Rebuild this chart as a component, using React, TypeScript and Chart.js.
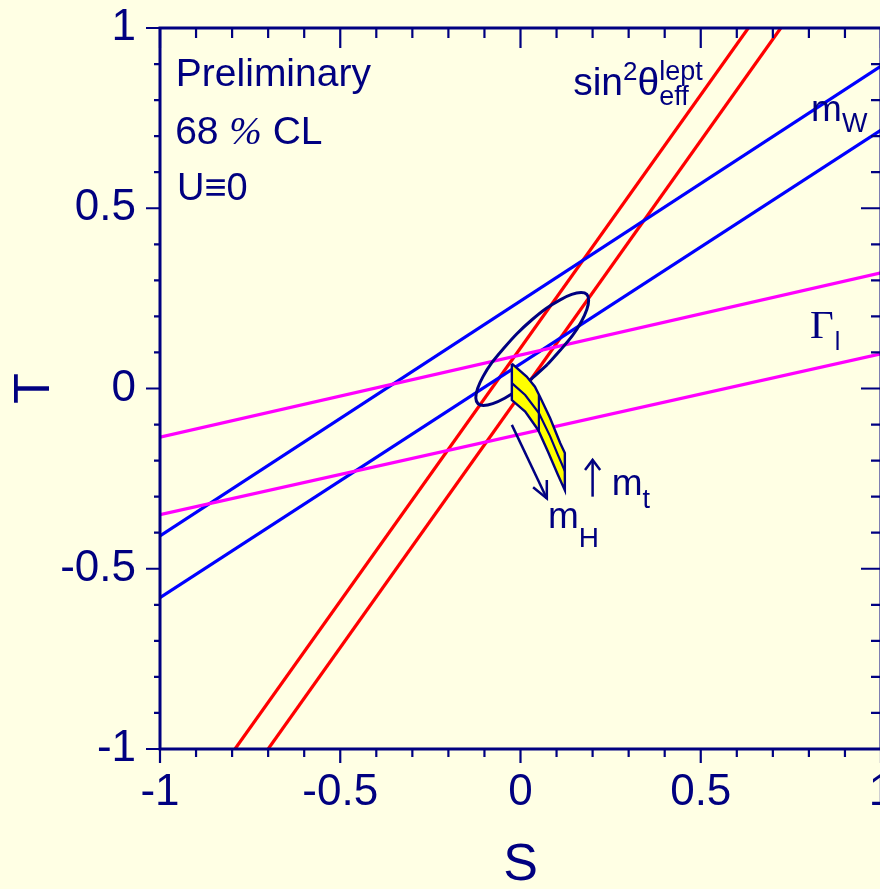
import React, { useEffect, useRef } from 'react';
import { Chart, registerables } from 'chart.js';

Chart.register(...registerables);

const NAVY = '#000080';
const BG = '#FFFFE4';
const RED = '#FF0000';
const BLUE = '#0000FF';
const MAGENTA = '#FF00FF';
const YELLOW = '#FFFF00';
const SANS = "'Liberation Sans', Arial, Helvetica, sans-serif";
const SERIF = "'Liberation Serif', 'Times New Roman', Times, serif";

// axes
const S_TICK_VALUES = [-1, -0.5, 0, 0.5, 1];
const S_TICK_LABELS = ['-1', '-0.5', '0', '0.5', '1'];
const T_TICK_VALUES = [-1, -0.5, 0, 0.5, 1];
const T_TICK_LABELS = ['-1', '-0.5', '0', '0.5', '1'];
const MINOR_STEP = 0.1;

// sin^2 theta_eff^lept band (red)
const SIN2_LOW_S = [-0.792, 0.632];
const SIN2_LOW_T = [-1, 1];
const SIN2_HIGH_S = [-0.700, 0.722];
const SIN2_HIGH_T = [-1, 1];
// m_W band (blue)
const MW_UP_S = [-1, 1];
const MW_UP_T = [-0.409, 0.894];
const MW_LO_S = [-1, 1];
const MW_LO_T = [-0.580, 0.717];
// Gamma_l band (magenta)
const GL_UP_S = [-1, 1];
const GL_UP_T = [-0.135, 0.321];
const GL_LO_S = [-1, 1];
const GL_LO_T = [-0.350, 0.096];
// 68% CL contour
const CL68_S = [0.075, 0.034, -0.006, -0.044, -0.077, -0.103, -0.118, -0.124, -0.119, -0.104, -0.080, -0.047, -0.010, 0.031, 0.071, 0.110, 0.142, 0.168, 0.184, 0.189, 0.184, 0.169, 0.145, 0.112, 0.075];
const CL68_T = [0.067, 0.030, -0.003, -0.027, -0.042, -0.047, -0.042, -0.026, 0.000, 0.033, 0.071, 0.111, 0.152, 0.190, 0.222, 0.246, 0.261, 0.266, 0.261, 0.245, 0.219, 0.186, 0.148, 0.108, 0.067];
// SM prediction band (yellow)
const SM_BAND_S = [-0.024, 0.017, 0.040, 0.054, 0.082, 0.110, 0.123, 0.123, 0.104, 0.076, 0.049, 0.013, -0.024, -0.024];
const SM_BAND_T = [0.069, 0.033, 0.005, -0.023, -0.082, -0.151, -0.179, -0.282, -0.240, -0.175, -0.115, -0.064, -0.032, 0.069];
const SM_MT_MID_S = [-0.024, 0.013, 0.051, 0.082, 0.104, 0.123];
const SM_MT_MID_T = [0.015, -0.018, -0.068, -0.132, -0.185, -0.229];
const SM_MH_MID_S = [0.051, 0.051];
const SM_MH_MID_T = [-0.018, -0.119];
// arrows
const ARROW_MH_SHAFT_S = [-0.024, 0.073];
const ARROW_MH_SHAFT_T = [-0.101, -0.305];
const ARROW_MH_HEAD_S = [0.035, 0.073, 0.073];
const ARROW_MH_HEAD_T = [-0.274, -0.305, -0.254];
const ARROW_MT_SHAFT_S = [0.200, 0.200];
const ARROW_MT_SHAFT_T = [-0.300, -0.198];
const ARROW_MT_HEAD_S = [0.179, 0.200, 0.221];
const ARROW_MT_HEAD_T = [-0.226, -0.198, -0.226];

type Seg = { text: string; size: number; family?: string; style?: string; dy?: number; dx?: number; stack?: boolean };
type Label = { s: number; t: number; segs: Seg[] };

const LABELS: Label[] = [
  { s: -0.956, t: 0.838, segs: [{ text: 'Preliminary', size: 39 }] },
  { s: -0.958, t: 0.678, segs: [{ text: '68 ', size: 39 }, { text: '%', size: 39, family: SERIF, style: 'italic' }, { text: ' CL', size: 39 }] },
  { s: -0.953, t: 0.523, segs: [{ text: 'U≡0', size: 38 }] },
  {
    s: 0.146, t: 0.814, segs: [
      { text: 'sin', size: 39 },
      { text: '2', size: 26, dy: -15 },
      { text: 'θ', size: 39 },
      { text: 'lept', size: 27, dy: -15, stack: true },
      { text: 'eff', size: 27, dy: 10 },
    ],
  },
  { s: 0.806, t: 0.741, segs: [{ text: 'm', size: 37 }, { text: 'W', size: 27, dy: 11 }] },
  { s: 0.803, t: 0.139, segs: [{ text: 'Γ', size: 41, family: SERIF }, { text: 'l', size: 25, dy: 12, dx: 1 }] },
  { s: 0.253, t: -0.295, segs: [{ text: 'm', size: 37 }, { text: 't', size: 27, dy: 13 }] },
  { s: 0.076, t: -0.387, segs: [{ text: 'm', size: 37 }, { text: 'H', size: 28, dy: 19 }] },
];

const pts = (s: number[], t: number[]) => s.map((v, i) => ({ x: v, y: t[i] }));

function lineDs(data: any[], color: string, width: number, extra: any = {}) {
  return {
    data,
    showLine: true,
    borderColor: color,
    borderWidth: width,
    pointRadius: 0,
    pointHoverRadius: 0,
    fill: false,
    tension: 0,
    clip: 0,
    borderJoinStyle: 'miter',
    ...extra,
  };
}

function drawSegs(ctx: CanvasRenderingContext2D, x: number, y: number, segs: Seg[]) {
  let cx = x;
  for (const s of segs) {
    ctx.font = `${s.style ?? 'normal'} ${s.size}px ${s.family ?? SANS}`;
    const dx = s.dx ?? 0;
    ctx.fillText(s.text, cx + dx, y + (s.dy ?? 0));
    if (!s.stack) cx += ctx.measureText(s.text).width + dx;
  }
}

const framePlugin = {
  id: 'stFrame',
  beforeDraw(chart: any) {
    const { ctx, width, height } = chart;
    ctx.save();
    ctx.fillStyle = BG;
    ctx.fillRect(0, 0, width, height);
    ctx.restore();
  },
  afterDraw(chart: any) {
    const { ctx, chartArea: a, scales } = chart;
    const xs = scales.x;
    const ys = scales.y;
    ctx.save();
    ctx.strokeStyle = NAVY;
    ctx.lineCap = 'square';
    ctx.lineWidth = 3;
    ctx.beginPath();
    ctx.moveTo(a.left, a.bottom);
    ctx.lineTo(a.left, a.top);
    ctx.lineTo(a.right, a.top);
    ctx.moveTo(a.left, a.bottom);
    ctx.lineTo(a.right, a.bottom);
    ctx.moveTo(a.right, a.top);
    ctx.lineTo(a.right, a.bottom);
    ctx.stroke();

    ctx.lineCap = 'butt';
    ctx.lineWidth = 2.2;
    ctx.beginPath();
    const sMin = S_TICK_VALUES[0];
    const sMax = S_TICK_VALUES[S_TICK_VALUES.length - 1];
    const nS = Math.round((sMax - sMin) / MINOR_STEP);
    for (let i = 0; i <= nS; i++) {
      const v = sMin + i * MINOR_STEP;
      const major = S_TICK_VALUES.some((m) => Math.abs(m - v) < 1e-6);
      const p = xs.getPixelForValue(v);
      ctx.moveTo(p, a.bottom);
      ctx.lineTo(p, a.bottom + (major ? 14 : 8));
      ctx.moveTo(p, a.top);
      ctx.lineTo(p, a.top + (major ? 20 : 10));
    }
    const tMin = T_TICK_VALUES[0];
    const tMax = T_TICK_VALUES[T_TICK_VALUES.length - 1];
    const nT = Math.round((tMax - tMin) / MINOR_STEP);
    for (let i = 0; i <= nT; i++) {
      const v = tMin + i * MINOR_STEP;
      const major = T_TICK_VALUES.some((m) => Math.abs(m - v) < 1e-6);
      const p = ys.getPixelForValue(v);
      ctx.moveTo(a.left, p);
      ctx.lineTo(a.left - (major ? 14 : 6), p);
      ctx.moveTo(a.right, p);
      ctx.lineTo(a.right - (major ? 20 : 10), p);
    }
    ctx.stroke();

    ctx.fillStyle = NAVY;
    ctx.textBaseline = 'alphabetic';
    ctx.textAlign = 'left';
    for (const l of LABELS) {
      drawSegs(ctx, xs.getPixelForValue(l.s), ys.getPixelForValue(l.t), l.segs);
    }
    ctx.restore();
  },
};

export default function App() {
  const ref = useRef<HTMLCanvasElement | null>(null);
  useEffect(() => {
    document.body.style.margin = '0';
    document.body.style.background = BG;
    document.body.style.overflow = 'hidden';
    const canvas = ref.current;
    if (!canvas) return;
    const datasets: any[] = [
      lineDs(pts(ARROW_MH_SHAFT_S, ARROW_MH_SHAFT_T), NAVY, 2.5),
      lineDs(pts(ARROW_MH_HEAD_S, ARROW_MH_HEAD_T), NAVY, 2.5),
      lineDs(pts(ARROW_MT_SHAFT_S, ARROW_MT_SHAFT_T), NAVY, 2.5),
      lineDs(pts(ARROW_MT_HEAD_S, ARROW_MT_HEAD_T), NAVY, 2.5),
      lineDs(pts(SM_MT_MID_S, SM_MT_MID_T), NAVY, 2.2),
      lineDs(pts(SM_MH_MID_S, SM_MH_MID_T), NAVY, 2.2),
      lineDs(pts(SM_BAND_S, SM_BAND_T), NAVY, 2.4, { fill: 'shape', backgroundColor: YELLOW }),
      lineDs(pts(CL68_S, CL68_T), NAVY, 3, { tension: 0.3 }),
      lineDs(pts(GL_UP_S, GL_UP_T), MAGENTA, 3.2),
      lineDs(pts(GL_LO_S, GL_LO_T), MAGENTA, 3.2),
      lineDs(pts(MW_UP_S, MW_UP_T), BLUE, 3.2),
      lineDs(pts(MW_LO_S, MW_LO_T), BLUE, 3.2),
      lineDs(pts(SIN2_LOW_S, SIN2_LOW_T), RED, 3.2),
      lineDs(pts(SIN2_HIGH_S, SIN2_HIGH_T), RED, 3.2),
    ];
    const chart = new Chart(canvas, {
      type: 'line',
      data: { datasets },
      options: {
        responsive: false,
        animation: false,
        devicePixelRatio: 1,
        events: [],
        layout: { padding: { top: 28, right: 0, bottom: 0, left: 0 } },
        plugins: { legend: { display: false }, tooltip: { enabled: false } },
        scales: {
          x: {
            type: 'linear',
            position: 'bottom',
            min: S_TICK_VALUES[0],
            max: S_TICK_VALUES[S_TICK_VALUES.length - 1],
            grid: { display: false, drawTicks: false },
            border: { display: false },
            afterBuildTicks: (s: any) => { s.ticks = S_TICK_VALUES.map((v) => ({ value: v })); },
            ticks: {
              color: NAVY,
              font: { family: SANS, size: 44 },
              padding: 17,
              maxRotation: 0,
              autoSkip: false,
              callback: (v: any) => S_TICK_LABELS[S_TICK_VALUES.findIndex((m) => Math.abs(m - Number(v)) < 1e-9)] ?? '',
            },
            title: { display: true, text: 'S', color: NAVY, font: { family: SANS, size: 52, lineHeight: 0.9 }, padding: { top: 0, bottom: 0 } },
            afterFit: (s: any) => { s.height = 140; s.paddingLeft = 0; s.paddingRight = 0; },
          },
          y: {
            type: 'linear',
            position: 'left',
            min: T_TICK_VALUES[0],
            max: T_TICK_VALUES[T_TICK_VALUES.length - 1],
            grid: { display: false, drawTicks: false },
            border: { display: false },
            afterBuildTicks: (s: any) => { s.ticks = T_TICK_VALUES.map((v) => ({ value: v })); },
            ticks: {
              color: NAVY,
              font: { family: SANS, size: 44 },
              padding: 24,
              autoSkip: false,
              callback: (v: any) => T_TICK_LABELS[T_TICK_VALUES.findIndex((m) => Math.abs(m - Number(v)) < 1e-9)] ?? '',
            },
            title: { display: true, text: 'T', color: NAVY, font: { family: SANS, size: 50 }, padding: { top: 5, bottom: 0 } },
            afterFit: (s: any) => { s.width = 160; s.paddingTop = 0; s.paddingBottom = 0; },
          },
        },
      } as any,
      plugins: [framePlugin],
    });
    return () => chart.destroy();
  }, []);
  return (
    <div style={{ width: 880, height: 889, overflow: 'hidden', background: BG }}>
      <canvas ref={ref} width={881} height={889} style={{ display: 'block', width: 881, height: 889 }} />
    </div>
  );
}
